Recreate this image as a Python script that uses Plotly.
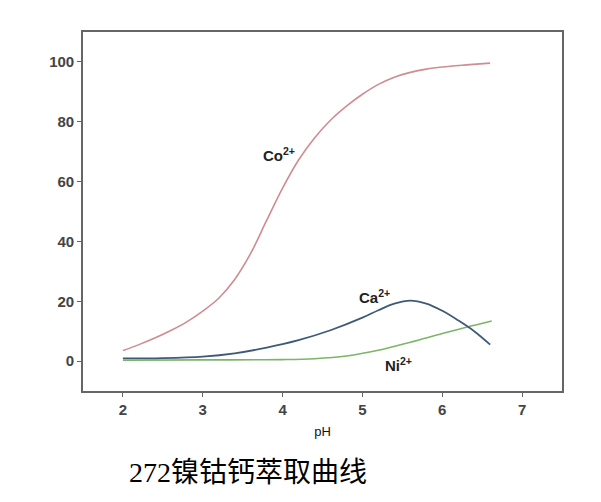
import plotly.graph_objects as go

# pH values and extraction (%)
co_ph = [2.0, 2.2, 2.4, 2.6, 2.8, 3.0, 3.2, 3.4, 3.6, 3.8, 4.0, 4.2, 4.4, 4.6, 4.8, 5.0, 5.2, 5.4, 5.6, 5.8, 6.0, 6.3, 6.6]
co_ext = [3.5, 5.5, 7.7, 10.2, 13.1, 16.7, 21, 27.3, 36, 47, 57.8, 67.2, 74.6, 80.5, 85.2, 89.2, 92.5, 94.9, 96.5, 97.6, 98.3, 99.0, 99.6]

ca_ph = [2.0, 2.5, 3.0, 3.4, 3.8, 4.2, 4.6, 5.0, 5.2, 5.4, 5.6, 5.8, 6.0, 6.2, 6.4, 6.6]
ca_ext = [0.9, 1.0, 1.5, 2.6, 4.5, 7.0, 10.3, 14.5, 17.0, 19.2, 20.2, 19.2, 16.8, 13.6, 10.0, 5.5]

ni_ph = [2.0, 3.0, 4.0, 4.4, 4.8, 5.2, 5.6, 6.0, 6.3, 6.62]
ni_ext = [0.3, 0.4, 0.5, 0.8, 1.7, 3.6, 6.3, 9.2, 11.3, 13.4]

x_ticks = [2, 3, 4, 5, 6, 7]
y_ticks = [0, 20, 40, 60, 80, 100]

labels = [
    ("Co<sup>2+</sup>", 3.95, 69),
    ("Ca<sup>2+</sup>", 5.15, 21.5),
    ("Ni<sup>2+</sup>", 5.45, -1.0),
]

fig = go.Figure()
fig.add_trace(go.Scatter(x=ni_ph, y=ni_ext, mode="lines",
                         line=dict(color="#7db46a", width=1.6, shape="spline", smoothing=1.0)))
fig.add_trace(go.Scatter(x=ca_ph, y=ca_ext, mode="lines",
                         line=dict(color="#3f5a78", width=1.8, shape="spline", smoothing=1.0)))
fig.add_trace(go.Scatter(x=co_ph, y=co_ext, mode="lines",
                         line=dict(color="#cf8c92", width=1.6, shape="spline", smoothing=1.0)))

for txt, x, y in labels:
    fig.add_annotation(x=x, y=y, text=txt, showarrow=False, xref="x", yref="y",
                       font=dict(family="Liberation Sans, Arial", size=15, color="#222", weight="bold"))

# page body has an 8px margin, so the figure starts at (8, 8)
fig.update_layout(
    width=593, height=494,
    margin=dict(l=75, r=39, t=24, b=111),
    paper_bgcolor="white", plot_bgcolor="white",
    showlegend=False,
    xaxis=dict(range=[1.5, 7.5], tickvals=x_ticks, ticks="outside", ticklen=4,
               tickcolor="#666", showline=True, linecolor="#666", linewidth=1.6,
               mirror=True, showgrid=False, zeroline=False,
               tickfont=dict(family="Liberation Sans, Arial", size=15, color="#444", weight="bold"),
               title=dict(text="pH", standoff=10,
                          font=dict(family="Liberation Sans, Arial", size=13, color="#111"))),
    yaxis=dict(range=[-10, 110], tickvals=y_ticks, ticks="outside", ticklen=4,
               tickcolor="#666", showline=True, linecolor="#666", linewidth=1.6,
               mirror=True, showgrid=False, zeroline=False,
               tickfont=dict(family="Liberation Sans, Arial", size=15, color="#444", weight="bold")),
)

# title below the chart, positioned relative to the plot domain
fig.add_annotation(x=(248 - 83) / (562 - 83), y=(391 - 472) / (391 - 32),
                   xref="paper", yref="paper", xanchor="center", yanchor="middle",
                   text="272镍钴钙萃取曲线", showarrow=False,
                   font=dict(family="Liberation Serif, Noto Sans CJK SC", size=28, color="#000"))

fig.write_html("out.html")
